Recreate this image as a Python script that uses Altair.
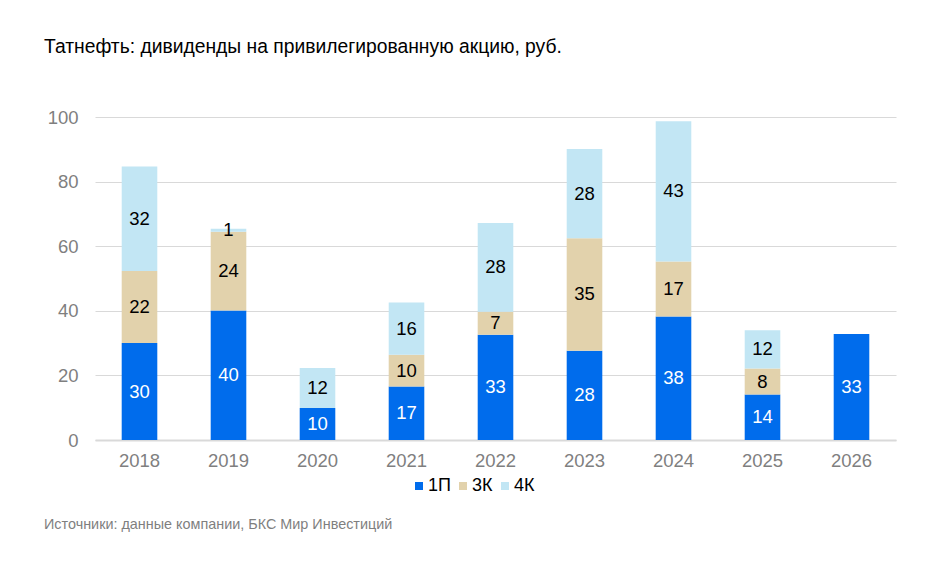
import altair as alt
import pandas as pd

years = ["2018", "2019", "2020", "2021", "2022", "2023", "2024", "2025", "2026"]
series = ["1П", "3К", "4К"]
v_1p = [30.0, 40.1, 9.9, 16.6, 32.6, 27.6, 38.2, 14.1, 32.8]
v_3k = [22.3, 24.4, 0, 9.8, 7.1, 34.9, 17.1, 8.0, 0]
v_4k = [32.4, 0.9, 12.4, 16.2, 27.5, 27.6, 43.4, 11.9, 0]
colors = ["#006CEC", "#E2D2AC", "#C2E6F4"]

title_text = "Татнефть: дивиденды на привилегированную акцию, руб."
source_text = "Источники: данные компании, БКС Мир Инвестиций"

rows = []
for i, y in enumerate(years):
    for k, (s, vals) in enumerate(zip(series, [v_1p, v_3k, v_4k])):
        if vals[i] > 0:
            rows.append({"year": y, "series": s, "order": k, "value": vals[i]})
df = pd.DataFrame(rows)

FONT = "Liberation Sans"
W, H = 801, 323
FS = 18.5

base = alt.Chart(df).transform_stack(
    stack="value", groupby=["year"], as_=["y0", "y1"],
    sort=[alt.SortField("order", order="ascending")]
).transform_calculate(mid="(datum.y0 + datum.y1) / 2")

xenc = alt.X("year:N", sort=years, title=None,
             scale=alt.Scale(paddingInner=0.6, paddingOuter=0.3),
             axis=alt.Axis(labelAngle=0, labelFontSize=FS, labelColor="#7F7F7F",
                           labelFont=FONT, labelPadding=11, ticks=False,
                           domainColor="#D9D9D9", domainWidth=2, grid=False))

bars = base.mark_bar().encode(
    x=xenc,
    y=alt.Y("y0:Q", title=None,
            scale=alt.Scale(domain=[0, 100], nice=False),
            axis=alt.Axis(values=[0, 20, 40, 60, 80, 100], labelFontSize=FS,
                          labelColor="#7F7F7F", labelFont=FONT, labelPadding=17,
                          ticks=False, domain=False, gridColor="#D9D9D9", gridWidth=1)),
    y2="y1:Q",
    color=alt.Color("series:N", sort=series, title=None,
                    scale=alt.Scale(domain=series, range=colors),
                    legend=alt.Legend(orient="none", legendX=315, legendY=360,
                                      direction="horizontal", symbolType="square",
                                      symbolSize=64, symbolStrokeWidth=0,
                                      labelFontSize=18, labelColor="#000000", labelFont=FONT,
                                      labelOffset=0, columnPadding=3, padding=0)),
    order=alt.Order("order:Q"),
)

labels = base.mark_text(font=FONT, fontSize=FS, baseline="middle").encode(
    x=alt.X("year:N", sort=years),
    y=alt.Y("mid:Q"),
    text=alt.Text("value:Q", format=".0f"),
    color=alt.condition("datum.series === '1П'", alt.value("white"), alt.value("black")),
)

source = alt.Chart(pd.DataFrame({"t": [source_text]})).mark_text(
    font=FONT, fontSize=14.4, color="#7F7F7F", align="left", baseline="middle"
).encode(text="t:N", x=alt.value(-51), y=alt.value(408))

chart = alt.layer(bars, labels, source).properties(
    width=W, height=H,
    title=alt.TitleParams(title_text, anchor="start", frame="bounds", font=FONT, fontSize=19.3,
                          fontWeight="normal", color="#000000", offset=51),
    autosize=alt.AutoSizeParams(type="none"),
    padding={"left": 87, "top": 109, "right": 30, "bottom": 110},
).configure_view(stroke=None)

chart.save("out.html", embed_options={"renderer": "svg", "actions": False})
